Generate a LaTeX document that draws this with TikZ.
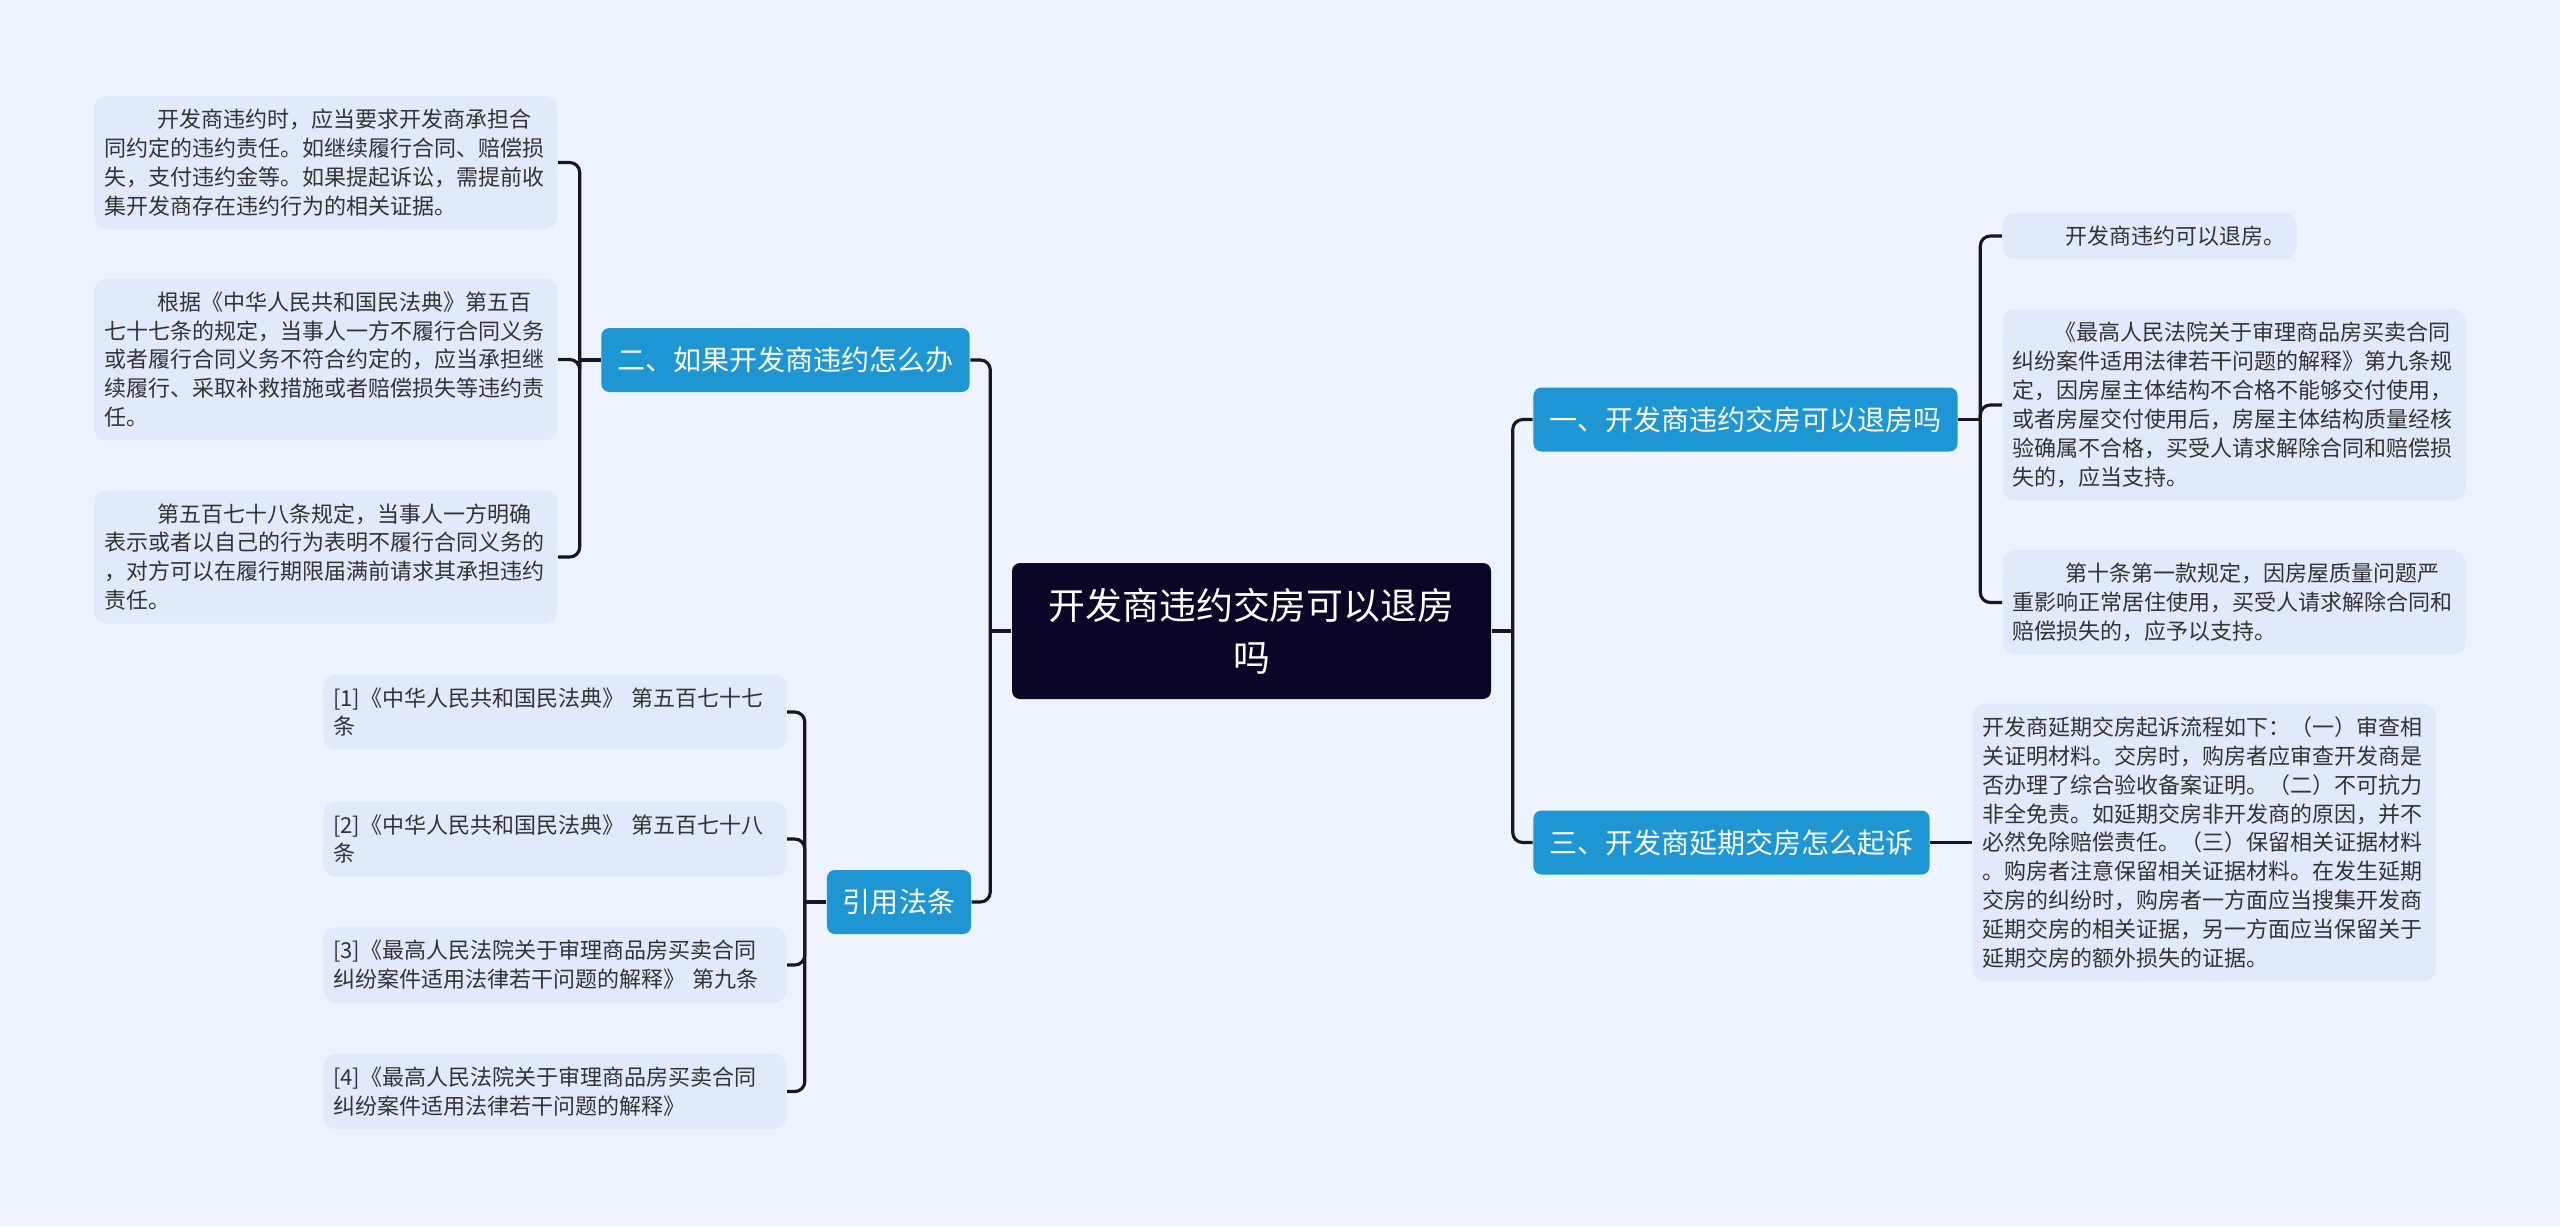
\documentclass[tikz,border=0pt]{standalone}
\usepackage{fontspec}
\setmainfont{Noto Sans CJK SC}
\definecolor{mapBg}{RGB}{238,244,255}
\definecolor{mapLeaf}{RGB}{225,234,251}
\definecolor{mapBlue}{RGB}{30,150,212}
\definecolor{mapRoot}{RGB}{10,6,40}
\definecolor{mapLine}{RGB}{22,22,40}
\definecolor{mapText}{RGB}{51,51,51}
\usepackage{tikz}
\usetikzlibrary{positioning}

\begin{document}
\begin{tikzpicture}[
  leaf/.style={fill=mapLeaf, rounded corners=0.12cm, inner xsep=0.1cm, inner ysep=0.13cm, text width=4.43cm, align=left, text=mapText, font=\fontsize{6.26pt}{8.22pt}\selectfont},
  topic/.style={fill=mapBlue, rounded corners=0.08cm, text=white, minimum height=0.64cm, inner xsep=0.16cm, font=\fontsize{7.97pt}{9pt}\selectfont},
  link/.style={draw=mapLine, line width=0.9pt, rounded corners=0.1cm}
]
  \fill[mapBg] (0,0) rectangle (25.6,-12.26);
  \useasboundingbox (0,0) rectangle (25.6,-12.26);

  \node[fill=mapRoot, rounded corners=0.08cm, text=white, align=center, minimum width=4.79cm, minimum height=1.36cm, font=\fontsize{10.5pt}{14.7pt}\selectfont] (root) at (12.515,-6.31) {开发商违约交房可以退房\\吗};

  \node[topic] (qTwo) at (7.855,-3.60) {二、如果开发商违约怎么办};
  \node[topic] (cite) at (8.99,-9.02) {引用法条};
  \node[topic] (qOne) at (17.455,-4.195) {一、开发商违约交房可以退房吗};
  \node[topic] (qThree) at (17.315,-8.425) {三、开发商延期交房怎么起诉};

  \node[leaf, anchor=east] (twoA) at (5.58,-1.625) {\hspace*{2.4em}开发商违约时，应当要求开发商承担合\\同约定的违约责任。如继续履行合同、赔偿损\\失，支付违约金等。如果提起诉讼，需提前收\\集开发商存在违约行为的相关证据。};
  \node[leaf, anchor=east] (twoB) at (5.58,-3.595) {\hspace*{2.4em}根据《中华人民共和国民法典》第五百\\七十七条的规定，当事人一方不履行合同义务\\或者履行合同义务不符合约定的，应当承担继\\续履行、采取补救措施或者赔偿损失等违约责\\任。};
  \node[leaf, anchor=east] (twoC) at (5.58,-5.57) {\hspace*{2.4em}第五百七十八条规定，当事人一方明确\\表示或者以自己的行为表明不履行合同义务的\\，对方可以在履行期限届满前请求其承担违约\\责任。};

  \node[leaf, anchor=east] (citeA) at (7.87,-7.12) {[1]《中华人民共和国民法典》~第五百七十七\\条};
  \node[leaf, anchor=east] (citeB) at (7.87,-8.39) {[2]《中华人民共和国民法典》~第五百七十八\\条};
  \node[leaf, anchor=east] (citeC) at (7.87,-9.65) {[3]《最高人民法院关于审理商品房买卖合同\\纠纷案件适用法律若干问题的解释》~第九条};
  \node[leaf, anchor=east] (citeD) at (7.87,-10.915) {[4]《最高人民法院关于审理商品房买卖合同\\纠纷案件适用法律若干问题的解释》};

  \node[leaf, anchor=west, text width=2.74cm] (oneA) at (20.02,-2.36) {\hspace*{2.4em}开发商违约可以退房。};
  \node[leaf, anchor=west] (oneB) at (20.02,-4.05) {\hspace*{1.9em}《最高人民法院关于审理商品房买卖合同\\纠纷案件适用法律若干问题的解释》第九条规\\定，因房屋主体结构不合格不能够交付使用，\\或者房屋交付使用后，房屋主体结构质量经核\\验确属不合格，买受人请求解除合同和赔偿损\\失的，应当支持。};
  \node[leaf, anchor=west] (oneC) at (20.02,-6.025) {\hspace*{2.4em}第十条第一款规定，因房屋质量问题严\\重影响正常居住使用，买受人请求解除合同和\\赔偿损失的，应予以支持。};

  \node[leaf, anchor=west] (threeA) at (19.72,-8.425) {开发商延期交房起诉流程如下：（一）审查相\\关证明材料。交房时，购房者应审查开发商是\\否办理了综合验收备案证明。（二）不可抗力\\非全免责。如延期交房非开发商的原因，并不\\必然免除赔偿责任。（三）保留相关证据材料\\。购房者注意保留相关证据材料。在发生延期\\交房的纠纷时，购房者一方面应当搜集开发商\\延期交房的相关证据，另一方面应当保留关于\\延期交房的额外损失的证据。};

  \draw[link] (root.west) -- ++(-0.21,0) coordinate (rootL);
  \draw[link] (rootL) |- (qTwo.east);
  \draw[link] (rootL) |- (cite.east);
  \draw[link] (root.east) -- ++(0.21,0) coordinate (rootR);
  \draw[link] (rootR) |- (qOne.west);
  \draw[link] (rootR) |- (qThree.west);

  \draw[link] (qTwo.west) -- ++(-0.21,0) coordinate (twoL);
  \foreach \n in {twoA,twoB,twoC}
    \draw[link] (twoL) |- (\n.east);
  \draw[link] (cite.west) -- ++(-0.215,0) coordinate (citeL);
  \foreach \n in {citeA,citeB,citeC,citeD}
    \draw[link] (citeL) |- (\n.east);
  \draw[link] (qOne.east) -- ++(0.22,0) coordinate (oneR);
  \foreach \n in {oneA,oneB,oneC}
    \draw[link] (oneR) |- (\n.west);
  \draw[link] (qThree.east) -- (threeA.west);
\end{tikzpicture}
\end{document}
